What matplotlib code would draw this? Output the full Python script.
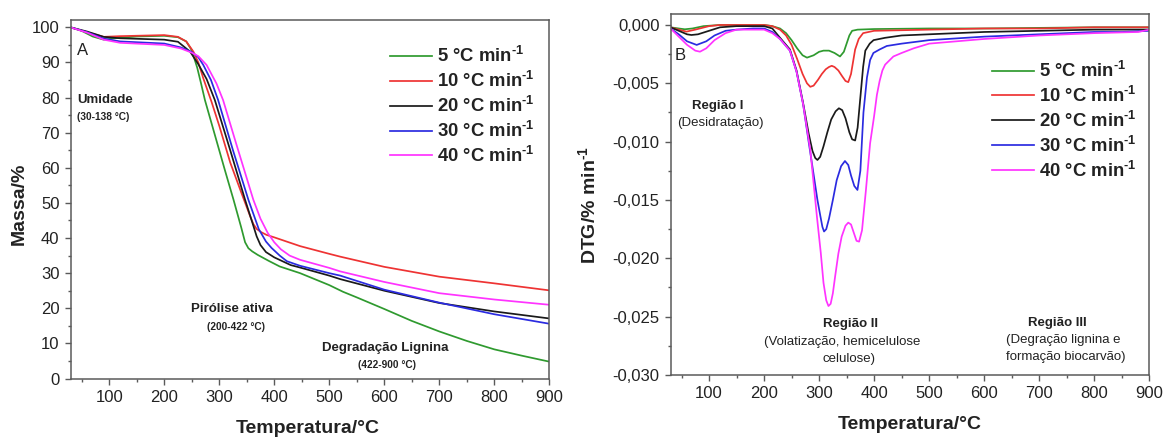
import matplotlib
matplotlib.use("Agg")
import matplotlib.pyplot as plt
from matplotlib.ticker import MultipleLocator, FuncFormatter

plt.rcParams['font.family'] = ['Liberation Sans', 'DejaVu Sans']
plt.rcParams['mathtext.fontset'] = 'custom'
plt.rcParams['mathtext.rm'] = 'Liberation Sans:bold'
plt.rcParams['mathtext.default'] = 'rm'

# ---------------- data ----------------
rates = ['5', '10', '20', '30', '40']
colors = ['#2f9a2f', '#ee3333', '#1a1a1a', '#2b2be0', '#ff33ff']

# TG curves (temperature, mass %)
tg_T_5 = [30, 50, 70, 90, 110, 150, 200, 225, 240, 250, 260, 267, 274, 290, 310, 326, 340, 347, 353, 360,
          370, 390, 410, 447, 500, 525, 550, 600, 650, 700, 750, 800, 850, 900]
tg_M_5 = [100, 99.0, 97.4, 96.5, 96.9, 97.4, 97.6, 97.2, 96.0, 93.5, 88.5, 84.0, 79.3, 70.5, 59.5, 50.9, 43.0,
          38.8, 37.1, 36.2, 35.2, 33.5, 31.9, 30.0, 26.6, 24.7, 23.1, 19.8, 16.4, 13.4, 10.7, 8.3, 6.5, 4.8]

tg_T_10 = [30, 60, 90, 120, 200, 225, 240, 253, 262, 271, 286, 300, 320, 340, 356, 362, 368, 376, 386, 400,
           447, 500, 520, 600, 700, 800, 900]
tg_M_10 = [100, 98.6, 97.3, 97.5, 97.8, 97.3, 96.0, 93.1, 90.0, 85.5, 78.8, 72.0, 61.5, 53.0, 46.3, 44.0, 42.6,
           41.7, 40.9, 40.2, 37.7, 35.5, 34.7, 31.8, 29.0, 27.1, 25.1]

tg_T_20 = [30, 60, 90, 120, 200, 225, 247, 262, 277, 292, 320, 347, 360, 368, 375, 385, 400, 430, 447, 500,
           520, 600, 700, 800, 900]
tg_M_20 = [100, 98.8, 97.3, 96.9, 96.5, 95.9, 93.1, 89.5, 85.3, 79.3, 65.0, 50.9, 44.5, 40.5, 38.0, 36.0, 34.5,
           32.3, 31.6, 29.3, 28.3, 25.0, 21.5, 19.1, 17.1]

tg_T_30 = [30, 60, 90, 120, 200, 230, 250, 262, 271, 285, 298, 325, 353, 372, 385, 395, 410, 423, 447, 500,
           520, 600, 700, 800, 900]
tg_M_30 = [100, 98.6, 96.8, 96.0, 95.4, 94.3, 93.0, 91.5, 89.3, 85.0, 79.3, 65.0, 50.9, 42.5, 39.0, 37.2, 35.0,
           33.4, 32.1, 30.0, 29.3, 25.3, 21.6, 18.3, 15.6]

tg_T_40 = [30, 60, 90, 120, 200, 230, 250, 262, 277, 295, 307, 330, 362, 375, 388, 400, 412, 428, 447,
           500, 520, 600, 700, 800, 900]
tg_M_40 = [100, 98.5, 96.5, 95.6, 95.0, 94.0, 92.8, 91.8, 89.3, 84.0, 79.3, 67.3, 50.9, 45.5, 41.5, 38.8, 36.8,
           35.0, 33.8, 31.5, 30.5, 27.5, 24.3, 22.5, 21.0]

# DTG curves (temperature, %/min)
dtg_T_5 = [30, 45, 56, 70, 90, 120, 150, 180, 200, 215, 229, 240, 250, 260, 270, 278, 290, 300, 308, 318, 328,
           338, 345, 350, 355, 360, 370, 400, 500, 600, 700, 800, 900]
dtg_D_5 = [-0.0002, -0.0003, -0.00037, -0.0003, -0.0001, 0.0, 0.0, 0.0, 0.0, -0.0001, -0.0003, -0.0007,
           -0.0013, -0.0020, -0.0026, -0.0028, -0.0026, -0.0023, -0.0022, -0.0022, -0.0024, -0.0027, -0.0023,
           -0.0016, -0.0009, -0.0005, -0.0004, -0.00035, -0.0003, -0.0003, -0.00025, -0.0002, -0.0002]

dtg_T_10 = [30, 45, 59, 75, 100, 120, 150, 200, 215, 229, 240, 250, 260, 270, 278, 284, 290, 298, 305, 312,
            318, 323, 328, 335, 342, 348, 353, 358, 365.5, 372, 380, 400, 500, 600, 700, 800, 900]
dtg_D_10 = [-0.0002, -0.0004, -0.00057, -0.0004, -0.0001, 0.0, 0.0, 0.0, -0.0001, -0.0004, -0.0009, -0.0017,
            -0.0029, -0.0042, -0.0050, -0.0053, -0.0052, -0.0047, -0.0042, -0.0038, -0.0036, -0.0035, -0.0036,
            -0.0039, -0.0044, -0.0048, -0.0049, -0.0042, -0.0021, -0.0012, -0.0007, -0.0005, -0.0004, -0.0003,
            -0.0003, -0.0002, -0.0002]

dtg_T_20 = [30, 45, 60, 68, 80, 100, 120, 150, 200, 215, 229, 247, 259, 271, 281, 288, 293, 297, 302, 308, 315,
            322, 330, 336, 342, 348, 355, 360, 365.5, 370, 375, 380, 384, 392, 399, 420, 450, 500, 600, 700, 800,
            900]
dtg_D_20 = [-0.0002, -0.0005, -0.0008, -0.00086, -0.0008, -0.0005, -0.0002, -0.0001, -0.0001, -0.0003,
            -0.0011, -0.0021, -0.0039, -0.0067, -0.0093, -0.0108, -0.0114, -0.01157, -0.0113, -0.0104, -0.0092,
            -0.0081, -0.0074, -0.00714, -0.0073, -0.0080, -0.0092, -0.0098, -0.0099, -0.0088, -0.0062, -0.0036,
            -0.0022, -0.0016, -0.0013, -0.0011, -0.0009, -0.0008, -0.0006, -0.0005, -0.0004, -0.0004]

dtg_T_30 = [30, 45, 60, 77.6, 95, 110, 130, 150, 180, 200, 215, 229, 247, 259, 271, 281, 290, 297, 302, 306,
            309, 313, 318, 325, 332, 340, 347, 353, 358, 364, 369.7, 375, 380.6, 387, 392.7, 398.7, 410, 423,
            450, 500, 600, 700, 800, 850, 900]
dtg_D_30 = [-0.0003, -0.0008, -0.0014, -0.00171, -0.0014, -0.0009, -0.0005, -0.0004, -0.0003, -0.0003,
            -0.0006, -0.0012, -0.0022, -0.0040, -0.0068, -0.0100, -0.0128, -0.0150, -0.0163, -0.0173, -0.0177,
            -0.0175, -0.0166, -0.0150, -0.0133, -0.0121, -0.01166, -0.0120, -0.0129, -0.0138, -0.01414, -0.0125,
            -0.0075, -0.0045, -0.0030, -0.0024, -0.0021, -0.0018, -0.0016, -0.0013, -0.0010, -0.0008, -0.0006,
            -0.0006, -0.0005]

dtg_T_40 = [30, 45, 60, 75, 83.6, 95, 110, 130, 150, 180, 200, 215, 229, 247, 259, 271, 284, 296, 303, 308,
            313, 317, 321, 325, 329, 335, 341, 348, 353, 358, 363, 368, 372.7, 378, 385, 392.7, 400, 405, 410,
            415, 420, 435, 450, 472, 500, 550, 600, 700, 800, 880, 900]
dtg_D_40 = [-0.0003, -0.0010, -0.0017, -0.0022, -0.00229, -0.0020, -0.0013, -0.0007, -0.0004, -0.0004,
            -0.0004, -0.0007, -0.0012, -0.0022, -0.0040, -0.0068, -0.0107, -0.0164, -0.0195, -0.0221, -0.0236,
            -0.02409, -0.0239, -0.0230, -0.0216, -0.0196, -0.01814, -0.0172, -0.01694, -0.0171, -0.0178,
            -0.0185, -0.01857, -0.0176, -0.0142, -0.01014, -0.0078, -0.0060, -0.0048, -0.0039, -0.0034,
            -0.0027, -0.0024, -0.0020, -0.0016, -0.0014, -0.0012, -0.0009, -0.0007, -0.0006, -0.0004]

tg_T = [tg_T_5, tg_T_10, tg_T_20, tg_T_30, tg_T_40]
tg_M = [tg_M_5, tg_M_10, tg_M_20, tg_M_30, tg_M_40]
dtg_T = [dtg_T_5, dtg_T_10, dtg_T_20, dtg_T_30, dtg_T_40]
dtg_D = [dtg_D_5, dtg_D_10, dtg_D_20, dtg_D_30, dtg_D_40]

labels = [f'{r} °C min$^{{\\text{{-1}}}}$' for r in rates]

# ---------------- figure ----------------
W, H = 1170, 440
fig = plt.figure(figsize=(W / 100, H / 100), dpi=100)
ax1 = fig.add_axes([70.7 / W, 61.5 / H, 478.6 / W, 358.5 / H])
ax2 = fig.add_axes([670.5 / W, 65 / H, 478.8 / W, 361 / H])

spine_c = '#5a5a5a'
text_c = '#222222'


def style(ax):
    for s in ax.spines.values():
        s.set_color(spine_c)
        s.set_linewidth(1.1)
    ax.tick_params(which='both', direction='out', color=spine_c, width=1.0,
                   labelsize=12, labelcolor=text_c, top=False, right=False)
    ax.tick_params(which='major', length=4.0)
    ax.tick_params(which='minor', length=2.2)
    ax.tick_params(axis='x', pad=4)
    ax.tick_params(axis='y', pad=4)
    ax.set_xlim(30, 900)
    ax.xaxis.set_major_locator(MultipleLocator(100))
    ax.xaxis.set_minor_locator(MultipleLocator(50))


legend_kw = dict(loc='upper left', frameon=False, prop={'weight': 'bold', 'size': 13.3},
                 handlelength=2.3, handletextpad=0.25, labelspacing=0.26, borderpad=0, borderaxespad=0)

# ---- panel A: TG ----
for T, M, c, lab in zip(tg_T, tg_M, colors, labels):
    ax1.plot(T, M, color=c, lw=1.25, label=lab)
style(ax1)
ax1.set_ylim(0, 102.1)
ax1.yaxis.set_major_locator(MultipleLocator(10))
ax1.yaxis.set_minor_locator(MultipleLocator(5))
ax1.set_xlabel('Temperatura/°C', fontsize=14, fontweight='bold', color=text_c)
ax1.set_ylabel('Massa/%', fontsize=14, fontweight='bold', color=text_c)
ax1.xaxis.set_label_coords(0.495, -0.139)
ax1.xaxis.label.set_va('center')
ax1.yaxis.set_label_coords(-0.108, 0.487)
ax1.yaxis.label.set_va('center')

ax1.text(41, 93.4, 'A', fontsize=12, color=text_c, va='center', ha='left')
ax1.text(41, 79.3, 'Umidade', fontsize=9.5, fontweight='bold', color=text_c, va='center', ha='left')
ax1.text(41, 74.5, '(30-138 °C)', fontsize=7.3, fontweight='bold', color=text_c, va='center', ha='left')
ax1.text(323, 19.7, 'Pirólise ativa', fontsize=9.5, fontweight='bold', color=text_c, va='center', ha='center')
ax1.text(330, 14.6, '(200-422 °C)', fontsize=7.3, fontweight='bold', color=text_c, va='center', ha='center')
ax1.text(602, 8.8, 'Degradação Lignina', fontsize=9.5, fontweight='bold', color=text_c, va='center',
         ha='center')
ax1.text(605, 3.9, '(422-900 °C)', fontsize=7.3, fontweight='bold', color=text_c, va='center', ha='center')

leg1 = ax1.legend(bbox_to_anchor=(0.667, 0.927), **legend_kw)
for t in leg1.get_texts():
    t.set_color(text_c)

# ---- panel B: DTG ----
for T, D, c, lab in zip(dtg_T, dtg_D, colors, labels):
    ax2.plot(T, D, color=c, lw=1.25, label=lab)
style(ax2)
ax2.set_ylim(-0.030, 0.00094)
ax2.yaxis.set_major_locator(MultipleLocator(0.005))
ax2.yaxis.set_minor_locator(MultipleLocator(0.0025))
ax2.yaxis.set_major_formatter(FuncFormatter(lambda v, p: f'{round(v, 4) + 0.0:.3f}'.replace('.', ',')))
ax2.set_xlabel('Temperatura/°C', fontsize=14, fontweight='bold', color=text_c)
ax2.set_ylabel('DTG/% min$^{\\text{-1}}$', fontsize=14, fontweight='bold', color=text_c)
ax2.xaxis.set_label_coords(0.5, -0.1385)
ax2.xaxis.label.set_va('center')
ax2.yaxis.set_label_coords(-0.172, 0.472)
ax2.yaxis.label.set_va('center')

ax2.text(38, -0.00264, 'B', fontsize=12, color=text_c, va='center', ha='left')
ax2.text(115.6, -0.00694, 'Região I', fontsize=9.5, fontweight='bold', color=text_c, va='center', ha='center')
ax2.text(120, -0.00837, '(Desidratação)', fontsize=9.5, color=text_c, va='center', ha='center')
ax2.text(357, -0.02566, 'Região II', fontsize=9.5, fontweight='bold', color=text_c, va='center', ha='center')
ax2.text(342, -0.02714, '(Volatização, hemicelulose', fontsize=9.5, color=text_c, va='center', ha='center')
ax2.text(354, -0.02863, 'celulose)', fontsize=9.5, color=text_c, va='center', ha='center')
ax2.text(732, -0.02551, 'Região III', fontsize=9.5, fontweight='bold', color=text_c, va='center', ha='center')
ax2.text(743, -0.02700, '(Degração lignina e', fontsize=9.5, color=text_c, va='center', ha='center')
ax2.text(748, -0.02843, 'formação biocarvão)', fontsize=9.5, color=text_c, va='center', ha='center')

leg2 = ax2.legend(bbox_to_anchor=(0.671, 0.870), **legend_kw)
for t in leg2.get_texts():
    t.set_color(text_c)

fig.savefig('out.png', dpi=100)
